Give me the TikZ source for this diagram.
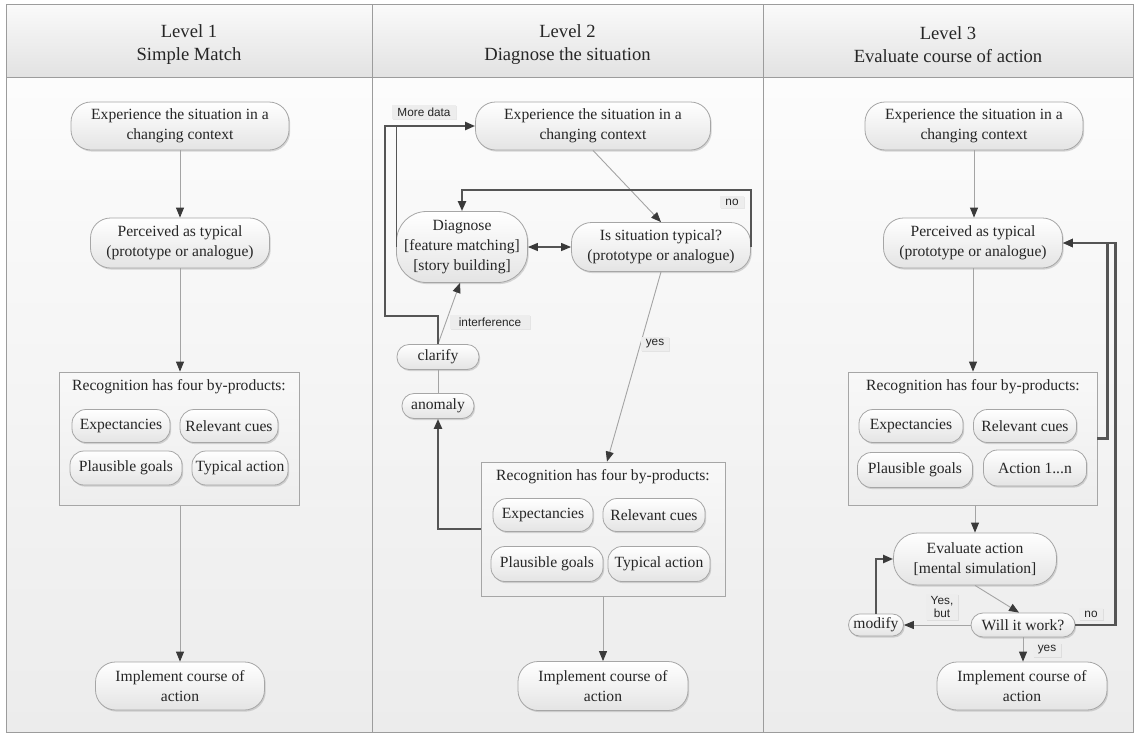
\documentclass[tikz,border=0pt]{standalone}
\usepackage{fontspec}
\setmainfont{Liberation Serif}
\setsansfont{Liberation Sans}
\usetikzlibrary{arrows.meta,shadows,positioning}
\definecolor{rulec}{HTML}{9C9C9C}
\definecolor{headtop}{HTML}{FAFAFA}
\definecolor{headbot}{HTML}{E2E2E2}
\definecolor{lanetop}{HTML}{FCFCFC}
\definecolor{lanebot}{HTML}{ECECEC}
\definecolor{edge}{HTML}{A6A6A6}
\definecolor{pillbot}{HTML}{E4E4E4}
\definecolor{boxtop}{HTML}{F8F8F8}
\definecolor{boxbot}{HTML}{EEEEEE}
\definecolor{lblfill}{HTML}{EDEDED}
\definecolor{wirec}{HTML}{A4A4A4}
\definecolor{boldc}{HTML}{555555}
\definecolor{headc}{HTML}{3A3A3A}
\definecolor{ink}{HTML}{262626}
\newcommand{\nodefont}{\fontsize{15.6}{20}\selectfont}
\newcommand{\lvlfont}{\fontsize{18.6}{23}\selectfont}
\newcommand{\tagfont}{\sffamily\fontsize{11.8}{14}\selectfont}

\begin{document}
\begin{tikzpicture}[x=1pt,y=-1pt,
  pill/.style={draw=edge,line width=.8pt,rounded corners=20pt,top color=white,bottom color=pillbot,drop shadow={shadow xshift=1.2pt,shadow yshift=-1.6pt,opacity=.3},align=center,inner sep=0pt,text=ink,font=\nodefont},
  cue/.style={pill,rounded corners=14pt,minimum height=33pt},
  byprod/.style={draw=edge,line width=.8pt,top color=boxtop,bottom color=boxbot,inner sep=0pt},
  lbl/.style={fill=lblfill,font=\tagfont,inner xsep=5pt,inner ysep=2.5pt,text=ink,drop shadow={shadow xshift=1pt,shadow yshift=-1pt,opacity=.15}},
  lvl/.style={align=center,font=\lvlfont,text=ink},
  wire/.style={draw=wirec,line width=.9pt},
  boldwire/.style={draw=boldc,line width=2.2pt},
  arr/.style={-{Triangle[length=10pt,width=8pt,color=headc]}},
  twoway/.style={{Triangle[length=10pt,width=8pt,color=headc]}-{Triangle[length=10pt,width=8pt,color=headc]}}]
\useasboundingbox (0,0) rectangle (1135,734);
\foreach \a/\b/\t [count=\i] in {6/372/Simple Match,372/763/Diagnose the situation,763/1133/Evaluate course of action}{
  \shade[top color=headtop,bottom color=headbot] (\a,4) rectangle (\b,77);
  \shade[top color=lanetop,bottom color=lanebot] (\a,77) rectangle (\b,732);
  \draw[draw=rulec,line width=.8pt] (\a,4) rectangle (\b,77) (\a,77) rectangle (\b,732);
  \node[lvl] (h\i) at ({(\a+\b)/2},45) {Level \i\\\t};}

\node[pill,minimum width=218pt,minimum height=48pt] (exp1) at (180,126) {Experience the situation in a\\changing context};
\node[pill,minimum width=179pt,minimum height=50pt] (per1) at (180,243) {Perceived as typical\\(prototype or analogue)};
\node[byprod,minimum width=240pt,minimum height=133pt] (box1) at (179,438.5) {};
\node[font=\nodefont,text=ink] (rec1) at (179,387) {Recognition has four by-products:};
\node[cue,minimum width=98pt] (e1) at (121,426) {Expectancies};
\node[cue,minimum width=98pt] (r1) at (229,426) {Relevant cues};
\node[cue,minimum width=112pt,minimum height=34pt] (g1) at (126,468) {Plausible goals};
\node[cue,minimum width=96pt,minimum height=34pt] (a1) at (240,468) {Typical action};
\node[pill,minimum width=169pt,minimum height=48pt] (imp1) at (180,686) {Implement course of\\action};
\draw[wire,arr] (exp1) -- (per1);
\draw[wire,arr] (per1.south) -- (per1.south |- box1.north);
\draw[wire,arr] (box1.south -| imp1) -- (imp1);

\node[pill,minimum width=235pt,minimum height=48pt] (exp2) at (593,126) {Experience the situation in a\\changing context};
\node[pill,rounded corners=30pt,minimum width=131pt,minimum height=71pt] (diag) at (462,247) {Diagnose\\{[feature matching]}\\{[story building]}};
\node[pill,minimum width=179pt,minimum height=49pt] (typ) at (661,247) {Is situation typical?\\(prototype or analogue)};
\node[pill,rounded corners=12pt,minimum width=82pt,minimum height=25pt] (clar) at (438,357) {clarify};
\node[pill,rounded corners=12pt,minimum width=72pt,minimum height=25pt] (anom) at (438,406) {anomaly};
\node[byprod,minimum width=244pt,minimum height=134pt] (box2) at (603,529) {};
\node[font=\nodefont,text=ink] (rec2) at (603,477) {Recognition has four by-products:};
\node[cue,minimum width=100pt] (e2) at (543,515) {Expectancies};
\node[cue,minimum width=102pt] (r2) at (654,515) {Relevant cues};
\node[cue,minimum width=112pt,minimum height=35pt] (g2) at (547,564) {Plausible goals};
\node[cue,minimum width=102pt,minimum height=35pt] (a2) at (659,564) {Typical action};
\node[pill,minimum width=170pt,minimum height=49pt] (imp2) at (603,686) {Implement course of\\action};
\draw[wire,arr] (exp2.south) -- (typ.north);
\draw[twoway,draw=boldc,line width=1.2pt] (diag) -- (typ);
\draw[boldwire,arr] (typ.east) -- ++(0,-57) -| (diag.north);
\draw[wire,arr] (typ.south) -- ([xshift=4pt]box2.north);
\draw[wire,arr] (clar.north) -- ([xshift=-2pt]diag.south);
\draw[wire] (clar) -- (anom);
\draw[boldwire,arr] (box2.west) -| (anom.south);
\draw[boldwire,arr] (clar.north) -- ++(0,-28) -- ++(-53,0) |- (exp2.west);
\draw[draw=boldc,line width=1pt] (diag.west) -- (diag.west |- exp2.west);
\draw[wire,arr] (box2) -- (imp2);
\node[lbl] (more) at (424,112) {More data};
\node[lbl] (no2) at (732,202) {no};
\node[lbl] (yes2) at (655,344) {yes};
\node[lbl,minimum width=80pt] (intf) at (490,322) {interference};

\node[pill,minimum width=218pt,minimum height=48pt] (exp3) at (974,126) {Experience the situation in a\\changing context};
\node[pill,minimum width=179pt,minimum height=50pt] (per3) at (973,243) {Perceived as typical\\(prototype or analogue)};
\node[byprod,minimum width=249pt,minimum height=133pt] (box3) at (972.5,438.5) {};
\node[font=\nodefont,text=ink] (rec3) at (973,387) {Recognition has four by-products:};
\node[cue,minimum width=104pt] (e3) at (911,426) {Expectancies};
\node[cue,minimum width=103pt] (r3) at (1025,426) {Relevant cues};
\node[cue,minimum width=115pt,minimum height=35pt] (g3) at (915,470) {Plausible goals};
\node[cue,minimum width=103pt,minimum height=36pt] (a3) at (1035,468) {Action 1...n};
\node[pill,rounded corners=24pt,minimum width=163pt,minimum height=52pt] (eval) at (975,559) {Evaluate action\\{[mental simulation]}};
\node[pill,rounded corners=12pt,minimum width=104pt,minimum height=24pt] (will) at (1023,625) {Will it work?};
\node[pill,rounded corners=11pt,minimum width=55pt,minimum height=22pt] (mod) at (876,625) {modify};
\node[pill,minimum width=170pt,minimum height=48pt] (imp3) at (1022,686) {Implement course of\\action};
\draw[wire,arr] (exp3.south) -- (exp3.south |- per3.north);
\draw[wire,arr] (per3.south) -- (per3.south |- box3.north);
\draw[wire,arr] (box3.south -| eval.north) -- (eval.north);
\draw[wire,arr] (eval.south) -- ([xshift=-4pt]will.north);
\draw[wire,arr] (will.west) -- (mod.east);
\draw[boldwire,arr] (mod.north) |- (eval.west);
\draw[boldwire,arr] (will.east) -- ++(40,0) |- (per3.east);
\draw[boldwire,arr] (box3.east) -- ++(10,0) |- (per3.east);
\draw[wire,arr] (will.south) -- (will.south |- imp3.north);
\node[lbl,align=center,font=\tagfont\linespread{.9}\selectfont] (yb) at (942,607) {Yes,\\but};
\node[lbl] (no3) at (1091,614) {no};
\node[lbl] (yes3) at (1047,650) {yes};
\end{tikzpicture}
\end{document}
